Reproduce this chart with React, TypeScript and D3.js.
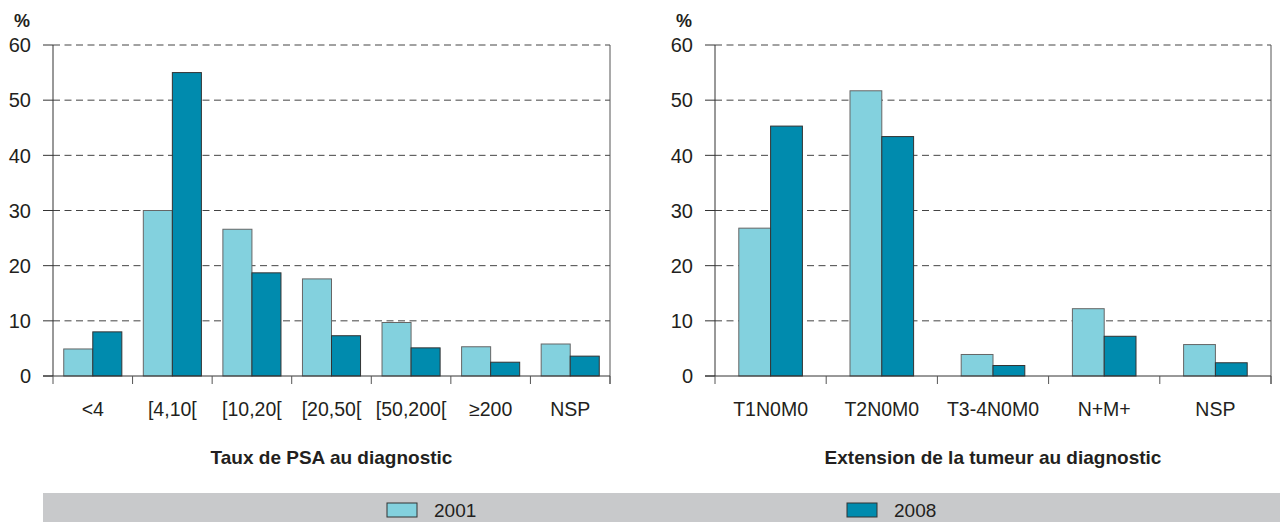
import React from "react";
import * as d3 from "d3";

const psaCategories = ["<4", "[4,10[", "[10,20[", "[20,50[", "[50,200[", "≥200", "NSP"];
const psa2001 = [4.9, 30, 26.6, 17.6, 9.7, 5.3, 5.8];
const psa2008 = [8.0, 55, 18.7, 7.3, 5.1, 2.5, 3.6];

const extCategories = ["T1N0M0", "T2N0M0", "T3-4N0M0", "N+M+", "NSP"];
const ext2001 = [26.8, 51.7, 3.9, 12.2, 5.7];
const ext2008 = [45.3, 43.4, 1.9, 7.2, 2.4];

const seriesNames = ["2001", "2008"];
const seriesColors = ["#83D1DE", "#008BAE"];
const yTicks = [0, 10, 20, 30, 40, 50, 60];

const FONT = "'Liberation Sans', Arial, sans-serif";

type PanelProps = {
  x0: number;
  x1: number;
  categories: string[];
  a: number[];
  b: number[];
  pad: number;
  title: string;
};

const yTop = 45;
const yBottom = 376;

function Panel({ x0, x1, categories, a, b, pad, title }: PanelProps) {
  const y = d3.scaleLinear().domain([0, 60]).range([yBottom, yTop]);
  const x = d3
    .scaleBand<string>()
    .domain(categories)
    .range([x0, x1])
    .paddingInner(pad)
    .paddingOuter(pad / 2);
  const inner = d3.scaleBand<string>().domain(seriesNames).range([0, x.bandwidth()]);
  const step = x.step();
  const boundaries = d3.range(categories.length + 1).map((i) => x0 + i * step);
  return (
    <g>
      {yTicks.slice(1).map((t) => (
        <line
          key={"g" + t}
          x1={x0}
          x2={x1}
          y1={y(t)}
          y2={y(t)}
          stroke="#444"
          strokeWidth={1}
          strokeDasharray="7,4.5"
        />
      ))}
      {yTicks.map((t) => (
        <g key={"t" + t}>
          <line x1={x0 - 10} x2={x0} y1={y(t)} y2={y(t)} stroke="#333" />
          <text
            x={x0 - 22}
            y={y(t)}
            dy="0.36em"
            textAnchor="end"
            fontSize={20}
            fill="#231F20"
            fontFamily={FONT}
          >
            {t}
          </text>
        </g>
      ))}
      <text
        x={x0 - 23}
        y={27}
        textAnchor="end"
        fontSize={18}
        fontWeight="bold"
        fill="#231F20"
        fontFamily={FONT}
      >
        %
      </text>
      {categories.map((c, i) => (
        <g key={c}>
          {[a[i], b[i]].map((v, j) => (
            <rect
              key={j}
              x={(x(c) as number) + (inner(seriesNames[j]) as number)}
              y={y(v)}
              width={inner.bandwidth()}
              height={yBottom - y(v)}
              fill={seriesColors[j]}
              stroke={j === 0 ? "#666" : "#333"}
              strokeWidth={1}
            />
          ))}
          <text
            x={(x(c) as number) + x.bandwidth() / 2}
            y={416}
            textAnchor="middle"
            fontSize={19.5}
            fill="#231F20"
            fontFamily={FONT}
          >
            {c}
          </text>
        </g>
      ))}
      <line x1={x0} x2={x0} y1={yTop} y2={yBottom} stroke="#333" />
      <line x1={x1} x2={x1} y1={yTop} y2={yBottom + 8} stroke="#555" />
      <line x1={x0 - 10} x2={x1} y1={yBottom} y2={yBottom} stroke="#333" />
      {boundaries.map((bx, i) => (
        <line key={"b" + i} x1={bx} x2={bx} y1={yBottom} y2={yBottom + 8} stroke="#555" />
      ))}
      <text
        x={(x0 + x1) / 2}
        y={464}
        textAnchor="middle"
        fontSize={19}
        fontWeight="bold"
        fill="#231F20"
        fontFamily={FONT}
      >
        {title}
      </text>
    </g>
  );
}

export default function App() {
  return (
    <svg
      width={1280}
      height={522}
      style={{ position: "absolute", left: 0, top: 0, background: "#fff" }}
    >
      <rect x={0} y={0} width={1280} height={522} fill="#fff" />
      <Panel
        x0={53}
        x1={610}
        categories={psaCategories}
        a={psa2001}
        b={psa2008}
        pad={0.27}
        title="Taux de PSA au diagnostic"
      />
      <Panel
        x0={715}
        x1={1271}
        categories={extCategories}
        a={ext2001}
        b={ext2008}
        pad={0.428}
        title="Extension de la tumeur au diagnostic"
      />
      <rect x={43} y={493} width={1237} height={29} fill="#C8C9CB" />
      {seriesNames.map((s, i) => {
        const lx = [387, 847][i];
        return (
          <g key={s}>
            <rect x={lx} y={503} width={30} height={14} fill={seriesColors[i]} stroke="#333" />
            <text x={lx + 47} y={517} fontSize={19} fill="#231F20" fontFamily={FONT}>
              {s}
            </text>
          </g>
        );
      })}
    </svg>
  );
}
